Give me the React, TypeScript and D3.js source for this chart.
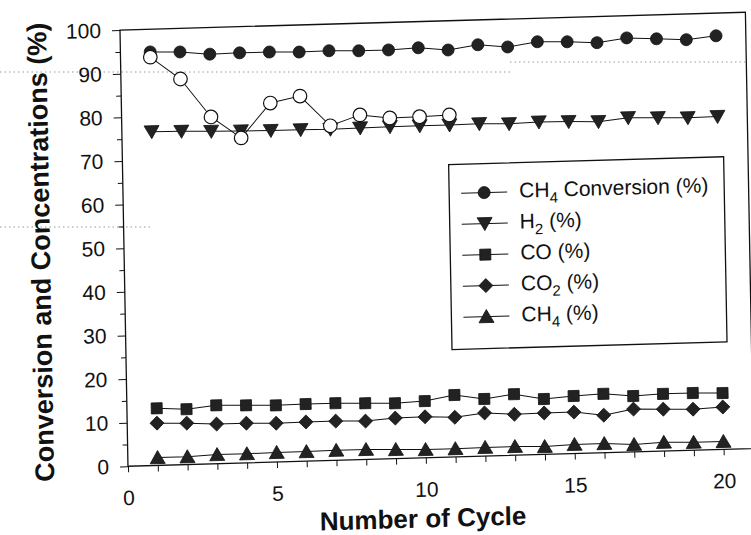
import React, { useEffect, useRef } from "react";
import * as d3 from "d3";

// cycle numbers on the x axis
const cycles = [1, 2, 3, 4, 5, 6, 7, 8, 9, 10, 11, 12, 13, 14, 15, 16, 17, 18, 19, 20];

// series (%)
const ch4Conversion = [94.8, 94.6, 93.9, 94.0, 94.0, 93.8, 93.9, 93.7, 93.7, 94.0, 93.3, 94.3, 93.6, 94.6, 94.4, 94.0, 94.9, 94.5, 94.1, 94.8];
const h2 = [76.5, 76.4, 76.2, 76.1, 76.0, 76.0, 75.9, 76.0, 76.1, 76.1, 76.1, 76.2, 76.0, 76.2, 76.1, 75.9, 76.6, 76.4, 76.2, 76.3];
const co = [13.1, 12.7, 13.4, 13.2, 13.0, 13.1, 13.1, 12.9, 12.7, 13.0, 14.2, 13.1, 14.0, 12.7, 13.2, 13.5, 12.8, 13.1, 13.1, 12.9];
const co2 = [9.7, 9.5, 9.1, 9.1, 8.9, 9.0, 9.0, 8.8, 9.3, 9.4, 9.1, 9.9, 9.4, 9.5, 9.5, 8.6, 9.8, 9.6, 9.4, 9.7];
const ch4 = [1.8, 1.8, 2.1, 2.1, 2.2, 2.2, 2.3, 2.3, 2.1, 1.9, 1.9, 2.0, 2.0, 1.8, 2.1, 2.1, 1.7, 2.0, 1.8, 1.8];

// open circles, no legend entry
const openCycles = [1, 2, 3, 4, 5, 6, 7, 8, 9, 10, 11];
const openValues = [93.6, 88.4, 79.5, 74.5, 82.3, 83.7, 76.7, 79.0, 78.1, 78.2, 78.4];

const yTicks = [0, 10, 20, 30, 40, 50, 60, 70, 80, 90, 100];
const yMinorTicks = [5, 15, 25, 35, 45, 55, 65, 75, 85, 95];
const xTicks = [0, 1, 2, 3, 4, 5, 6, 7, 8, 9, 10, 11, 12, 13, 14, 15, 16, 17, 18, 19, 20];
const xTickLabels = [0, 5, 10, 15, 20];

const legendItems = [
  { base: "CH", sub: "4", rest: " Conversion (%)", shape: "circle" },
  { base: "H", sub: "2", rest: " (%)", shape: "down" },
  { base: "CO (%)", sub: "", rest: "", shape: "square" },
  { base: "CO", sub: "2", rest: " (%)", shape: "diamond" },
  { base: "CH", sub: "4", rest: " (%)", shape: "up" },
];

const FONT = "'Liberation Sans', Arial, Helvetica, sans-serif";
const INK = "#111";
const FILL = "#222";

function markerPath(shape) {
  switch (shape) {
    case "circle":
      return d3.symbol().type(d3.symbolCircle).size(Math.PI * 36)();
    case "open":
      return d3.symbol().type(d3.symbolCircle).size(Math.PI * 46)();
    case "square":
      return "M-5.5,-5.5H5.5V5.5H-5.5Z";
    case "diamond":
      return "M0,-7L7,0L0,7L-7,0Z";
    case "down":
      return "M-7.5,-6L7.5,-6L0,7Z";
    case "up":
      return "M0,-7L7.5,6L-7.5,6Z";
    default:
      return "";
  }
}

export default function App() {
  const ref = useRef();

  useEffect(() => {
    document.body.style.margin = "0";
    const svg = d3.select(ref.current);
    svg.selectAll("*").remove();

    const width = 751;
    const height = 535;
    svg.attr("width", width).attr("height", height).style("background", "#fff");

    // scan artefacts (dotted guide lines left by the copier)
    const scan = svg.append("g").attr("stroke", "#999").attr("stroke-dasharray", "1.5,3").attr("stroke-width", 1);
    scan.append("line").attr("x1", 0).attr("x2", 510).attr("y1", 72).attr("y2", 72);
    scan.append("line").attr("x1", 510).attr("x2", 745).attr("y1", 62).attr("y2", 62);
    scan.append("line").attr("x1", 0).attr("x2", 150).attr("y1", 227).attr("y2", 227);

    // the scanned page is a little skewed: horizontals tilt more than verticals
    const cx = 436, cy = 240, sx = 0.0183, sy = 0.0285;
    const g = svg.append("g")
      .attr("transform", `matrix(1,${-sy},${sx},1,${-sx * cy},${sy * cx})`);

    const x = d3.scaleLinear().domain([0, 21]).range([124, 749.4]);
    const y = d3.scaleLinear().domain([0, 100]).range([457.4, 21.2]);

    // frame
    g.append("rect")
      .attr("x", x(0))
      .attr("y", y(100))
      .attr("width", x(21) - x(0))
      .attr("height", y(0) - y(100))
      .attr("fill", "none")
      .attr("stroke", INK)
      .attr("stroke-width", 1.3);

    // y axis
    const yAxis = g.append("g")
      .attr("transform", `translate(${x(0)},0)`)
      .call(d3.axisLeft(y).tickValues(yTicks).tickSize(8).tickPadding(11).tickSizeOuter(0));
    yAxis.select(".domain").remove();
    yAxis.selectAll("line").attr("stroke", INK);
    yAxis.selectAll("text").attr("font-family", FONT).attr("font-size", 21).attr("fill", INK);

    const yMinor = g.append("g")
      .attr("transform", `translate(${x(0)},0)`)
      .call(d3.axisLeft(y).tickValues(yMinorTicks).tickSize(5).tickFormat(() => ""));
    yMinor.select(".domain").remove();
    yMinor.selectAll("line").attr("stroke", INK);

    // x axis
    const xAxis = g.append("g")
      .attr("transform", `translate(0,${y(0)})`)
      .call(
        d3.axisBottom(x)
          .tickValues(xTicks)
          .tickSize(6)
          .tickPadding(18)
          .tickFormat((d) => (xTickLabels.includes(d) ? String(d) : ""))
      );
    xAxis.select(".domain").remove();
    xAxis.selectAll("line").attr("stroke", INK);
    xAxis.selectAll("text").attr("font-family", FONT).attr("font-size", 21).attr("fill", INK);

    // axis titles
    g.append("text")
      .attr("transform", "translate(50,241) rotate(-90)")
      .attr("text-anchor", "middle")
      .attr("font-family", FONT)
      .attr("font-weight", "bold")
      .attr("font-size", 27)
      .attr("fill", INK)
      .text("Conversion and Concentrations (%)");

    g.append("text")
      .attr("x", 418)
      .attr("y", 527)
      .attr("text-anchor", "middle")
      .attr("font-family", FONT)
      .attr("font-weight", "bold")
      .attr("font-size", 26)
      .attr("fill", INK)
      .text("Number of Cycle");

    const line = d3.line().x((d) => x(d[0])).y((d) => y(d[1]));

    const series = [
      { values: ch4Conversion, shape: "circle" },
      { values: h2, shape: "down" },
      { values: co, shape: "square" },
      { values: co2, shape: "diamond" },
      { values: ch4, shape: "up" },
    ];

    series.forEach((s) => {
      const pts = cycles.map((c, i) => [c, s.values[i]]);
      g.append("path")
        .attr("d", line(pts))
        .attr("fill", "none")
        .attr("stroke", INK)
        .attr("stroke-width", 1);
      g.append("g")
        .selectAll("path")
        .data(pts)
        .join("path")
        .attr("transform", (d) => `translate(${x(d[0])},${y(d[1])})`)
        .attr("d", markerPath(s.shape))
        .attr("fill", FILL)
        .attr("stroke", INK)
        .attr("stroke-width", 0.8);
    });

    // open circle series drawn last
    const openPts = openCycles.map((c, i) => [c, openValues[i]]);
    g.append("path")
      .attr("d", line(openPts))
      .attr("fill", "none")
      .attr("stroke", INK)
      .attr("stroke-width", 1);
    g.append("g")
      .selectAll("path")
      .data(openPts)
      .join("path")
      .attr("transform", (d) => `translate(${x(d[0])},${y(d[1])})`)
      .attr("d", markerPath("open"))
      .attr("fill", "#fff")
      .attr("stroke", INK)
      .attr("stroke-width", 1.2);

    // legend
    const legend = g.append("g").attr("transform", "translate(450,165)");
    legend.append("rect")
      .attr("width", 275)
      .attr("height", 185)
      .attr("fill", "#fff")
      .attr("stroke", INK)
      .attr("stroke-width", 1.3);

    legendItems.forEach((item, i) => {
      const row = legend.append("g").attr("transform", `translate(0,${29 + i * 31})`);
      row.append("line").attr("x1", 12).attr("x2", 58).attr("stroke", INK).attr("stroke-width", 1);
      row.append("path")
        .attr("transform", "translate(35,0)")
        .attr("d", markerPath(item.shape))
        .attr("fill", FILL)
        .attr("stroke", INK)
        .attr("stroke-width", 0.8);
      const t = row.append("text")
        .attr("x", 70)
        .attr("y", 6)
        .attr("font-family", FONT)
        .attr("font-size", 21)
        .attr("fill", INK);
      t.append("tspan").text(item.base);
      if (item.sub) {
        t.append("tspan").attr("dy", 6).attr("font-size", 15).text(item.sub);
        t.append("tspan").attr("dy", -6).text(item.rest);
      }
    });
  }, []);

  return <svg ref={ref} style={{ display: "block" }}></svg>;
}
